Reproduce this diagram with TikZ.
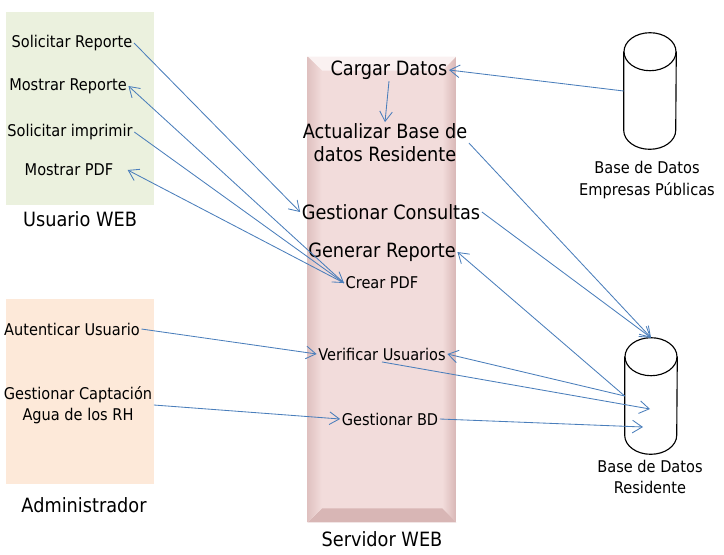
\documentclass[tikz,border=0pt]{standalone}
\usepackage{fontspec}
\setmainfont{DejaVu Sans}[FakeStretch=0.9]
\usetikzlibrary{shapes.geometric, arrows.meta, positioning}
\definecolor{verdeusr}{HTML}{EBF1DE}
\definecolor{naranjaadm}{HTML}{FDE9D9}
\definecolor{rosaserv}{HTML}{F2DCDB}
\definecolor{rosaborde}{HTML}{D8B6B5}
\definecolor{azulflecha}{HTML}{4A7EBB}
\tikzstyle{panel} = [rectangle, minimum width=3.7cm, inner sep=0pt]
\tikzstyle{caso} = [inner sep=1pt, align=center, font=\fontsize{11.5}{15}\selectfont]
\tikzstyle{casogrande} = [inner sep=1pt, align=center, font=\fontsize{14}{16.5}\selectfont]
\tikzstyle{actor} = [inner sep=1pt, font=\fontsize{14}{16.5}\selectfont]
\tikzstyle{basedatos} = [rectangle, inner sep=0pt, minimum width=1.3cm, minimum height=2.9cm]
\tikzstyle{cilindro} = [draw=black, line width=0.8pt]
\tikzstyle{arrow} = [azulflecha, line width=0.6pt, -{Straight Barb[length=7pt,width=9pt]}]

\begin{document}
\begin{tikzpicture}[x=0.025cm, y=-0.025cm]
    \useasboundingbox (0,0) rectangle (724,554);

    % actores
    \node (usrpanel) [panel, fill=verdeusr, minimum height=4.825cm] at (80,108.5) {};
    \node (usuario) [actor, below=0.12cm of usrpanel] {Usuario WEB};
    \node (admpanel) [panel, fill=naranjaadm, minimum height=4.625cm] at (80,391.5) {};
    \node (admin) [actor, below=0.29cm of admpanel, xshift=0.1cm] {Administrador};

    % servidor
    \node (servidor) [panel, fill=rosaserv, minimum height=11.625cm] at (382,289.5) {};
    \fill[rosaserv!40!white] (servidor.north west) -- (servidor.north east) -- ++(-14,14) -- ++(-120,0) -- cycle;
    \shade[left color=rosaserv, right color=rosaborde] (servidor.north east) -- (servidor.south east) -- ++(-14,-14) -- ++(0,-437) -- cycle;
    \fill[rosaborde] (servidor.south west) -- (servidor.south east) -- ++(-14,-14) -- ++(-120,0) -- cycle;
    \shade[left color=rosaborde!70!rosaserv, right color=rosaserv] (servidor.south west) -- (servidor.north west) -- ++(14,14) -- ++(0,437) -- cycle;
    \node (servlbl) [actor, below=0.19cm of servidor] {Servidor WEB};

    % casos de uso
    \node (solrep) [caso] at (72,43) {Solicitar Reporte};
    \node (mosrep) [caso] at (68,86) {Mostrar Reporte};
    \node (solimp) [caso] at (70,132) {Solicitar imprimir};
    \node (mospdf) [caso] at (69,170) {Mostrar PDF};
    \node (autent) [caso] at (72,329) {Autenticar Usuario};
    \node (gescap) [caso] at (78,405) {Gestionar Captación\\Agua de los RH};

    \node (cargar) [casogrande] at (389,70) {Cargar Datos};
    \node (actual) [casogrande] at (385,143) {Actualizar Base de\\datos Residente};
    \node (gescon) [casogrande] at (391,212) {Gestionar Consultas};
    \node (genrep) [casogrande] at (382,252) {Generar Reporte};
    \node (crear) [caso] at (382,283) {Crear PDF};
    \node (verif) [caso] at (382,354) {Verificar Usuarios};
    \node (gesbd) [caso] at (390,419) {Gestionar BD};

    % bases de datos
    \node (bdemp) [basedatos] at (650,91) {};
    \draw [cilindro] ([yshift=-0.475cm]bdemp.north) ellipse [x radius=0.65cm, y radius=0.475cm];
    \draw [cilindro] ([yshift=-0.475cm]bdemp.north west) -- ([yshift=0.475cm]bdemp.south west)
        arc [start angle=180, end angle=360, x radius=0.65cm, y radius=0.475cm] -- ([yshift=-0.475cm]bdemp.north east);
    \node (bdemplbl) [caso] at (647,180) {Base de Datos\\Empresas Públicas};
    \node (bdres) [basedatos] at (651,396) {};
    \draw [cilindro] ([yshift=-0.475cm]bdres.north) ellipse [x radius=0.65cm, y radius=0.475cm];
    \draw [cilindro] ([yshift=-0.475cm]bdres.north west) -- ([yshift=0.475cm]bdres.south west)
        arc [start angle=180, end angle=360, x radius=0.65cm, y radius=0.475cm] -- ([yshift=-0.475cm]bdres.north east);
    \node (bdreslbl) [caso] at (650,477) {Base de Datos\\Residente};
    \coordinate (bdres-in1) at (650,409);
    \coordinate (bdres-in2) at (643,427);

    \draw [arrow] (solrep.east) -- (gescon.west);
    \draw [arrow] (crear.west) -- (mosrep.east);
    \draw [arrow] (solimp.east) -- (crear.west);
    \draw [arrow] (crear.west) -- ([xshift=9pt]mospdf.east);
    \draw [arrow] (autent.east) -- (verif.west);
    \draw [arrow] (gescap.east) -- (gesbd.west);
    \draw [arrow] (bdemp.west) -- (cargar.east);
    \draw [arrow] (cargar.south) -- (actual.north);
    \draw [arrow] (actual.east) -- (bdres.north);
    \draw [arrow] (gescon.east) -- (bdres.north);
    \draw [arrow] (bdres.west) -- (genrep.east);
    \draw [arrow] (bdres.west) -- (verif.east);
    \draw [arrow] (verif.south) -- (bdres-in1);
    \draw [arrow] (gesbd.east) -- (bdres-in2);
\end{tikzpicture}
\end{document}
